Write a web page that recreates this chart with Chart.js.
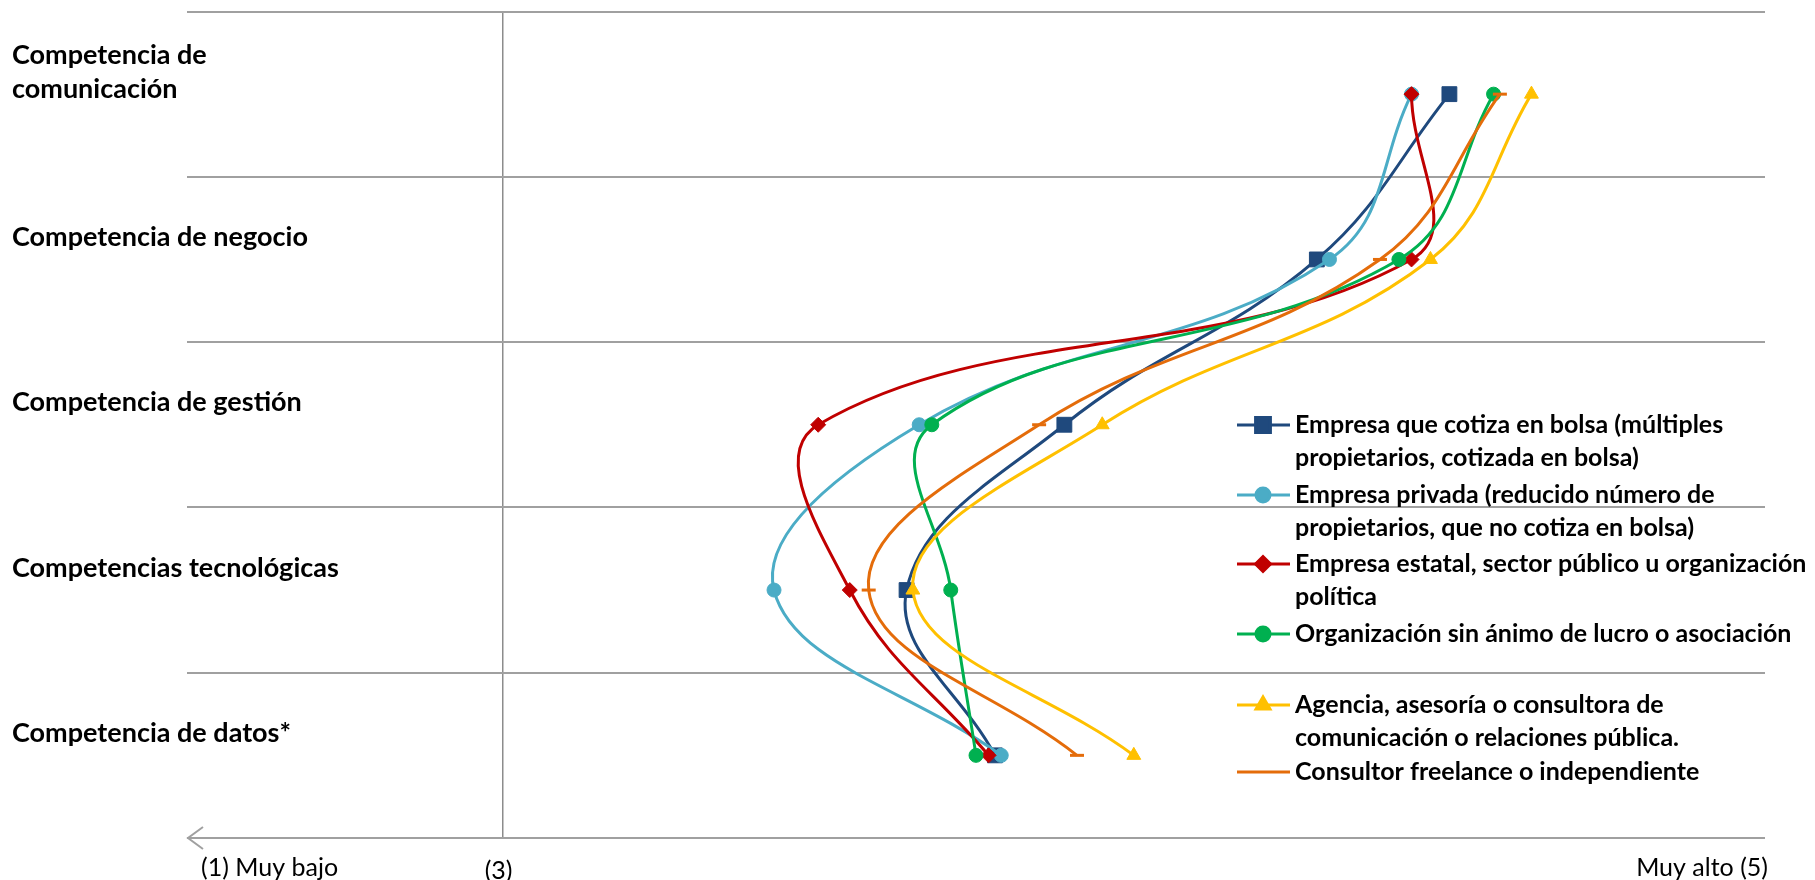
<!DOCTYPE html>
<html>
<head>
<meta charset="utf-8">
<script src="https://cdn.jsdelivr.net/npm/chart.js@4.4.1/dist/chart.umd.min.js"></script>
<style>
    html, body { margin: 0; padding: 0; background: #fff; }
    #wrap { width: 1815px; height: 880px; position: relative; }
</style>
</head>
<body>
<div id="wrap"><canvas id="competencias"></canvas></div>
<script>
// categorías (de arriba a abajo)
const categories = [
    ['Competencia de', 'comunicación'],
    ['Competencia de negocio'],
    ['Competencia de gestión'],
    ['Competencias tecnológicas'],
    ['Competencia de datos*']
];

// valores medios por tipo de organización (escala 1-5)
const cotizaBolsa = [4.50, 4.29, 3.89, 3.64, 3.78];
const empresaPrivada = [4.44, 4.31, 3.66, 3.43, 3.79];
const empresaEstatal = [4.44, 4.44, 3.50, 3.55, 3.77];
const sinAnimoLucro = [4.57, 4.42, 3.68, 3.71, 3.75];
const agencia = [4.63, 4.47, 3.95, 3.65, 4.00];
const freelance = [4.58, 4.39, 3.85, 3.58, 3.91];

const seriesLabels = [
    ['Empresa que cotiza en bolsa (múltiples', 'propietarios, cotizada en bolsa)'],
    ['Empresa privada (reducido número de', 'propietarios, que no cotiza en bolsa)'],
    ['Empresa estatal, sector público u organización', 'política'],
    ['Organización sin ánimo de lucro o asociación'],
    ['Agencia, asesoría o consultora de', 'comunicación o relaciones pública.'],
    ['Consultor freelance o independiente']
];

const axisLabels = ['(1) Muy bajo', '(3)', 'Muy alto (5)'];

const gridColor = '#a0a0a0';
const catY = (i) => categories.length - i - 0.5;

const styles = [
    { color: '#1F497D', point: 'rect', r: 10.5 },
    { color: '#4BACC6', point: 'circle', r: 7 },
    { color: '#C00000', point: 'rectRot', r: 7.5 },
    { color: '#00B050', point: 'circle', r: 7 },
    { color: '#FFC000', point: 'triangle', r: 8 },
    { color: '#E46C0A', point: 'line', r: 7 }
];

const allSeries = [cotizaBolsa, empresaPrivada, empresaEstatal, sinAnimoLucro, agencia, freelance];

const datasets = allSeries.map((values, i) => ({
    label: seriesLabels[i].join(' '),
    data: values.map((v, j) => ({ x: v, y: catY(j) })),
    showLine: true,
    tension: 0.4,
    borderColor: styles[i].color,
    backgroundColor: styles[i].color,
    borderWidth: 3,
    pointStyle: styles[i].point,
    pointRadius: styles[i].r,
    pointHoverRadius: styles[i].r,
    pointBorderWidth: styles[i].point === 'line' ? 3 : 1,
    order: -i,
    clip: false
}));

// textos, flecha y leyenda dibujados encima
const overlay = {
    id: 'overlay',
    afterDraw(chart) {
        const { ctx, chartArea, scales: { x, y } } = chart;
        ctx.save();

        // flecha del eje
        const ay = y.getPixelForValue(0);
        ctx.strokeStyle = gridColor;
        ctx.lineWidth = 2;
        ctx.beginPath();
        ctx.moveTo(chartArea.left + 16, ay - 11);
        ctx.lineTo(chartArea.left + 1, ay);
        ctx.lineTo(chartArea.left + 16, ay + 11);
        ctx.stroke();

        // etiquetas de categorías
        ctx.fillStyle = '#000';
        ctx.textBaseline = 'middle';
        ctx.textAlign = 'left';
        ctx.font = 'bold 27px Lato';
        categories.forEach((lines, i) => {
            const cy = y.getPixelForValue(catY(i)) - 22;
            const top = cy - (lines.length - 1) * 17;
            lines.forEach((t, k) => ctx.fillText(t, 12, top + k * 34));
        });

        // textos del eje horizontal
        ctx.font = '25px Lato';
        ctx.fillText(axisLabels[0], chartArea.left + 14, 868);
        ctx.textAlign = 'center';
        ctx.fillText(axisLabels[1], x.getPixelForValue(3) - 4, 871);
        ctx.textAlign = 'right';
        ctx.fillText(axisLabels[2], chartArea.right + 3, 868);

        // leyenda
        const lx = 1237, tx = 1295;
        const rowStarts = [425, 495, 564, 634, 705, 772];
        ctx.textAlign = 'left';
        ctx.font = 'bold 25px Lato';
        seriesLabels.forEach((lines, i) => {
            const ry = rowStarts[i];
            const st = styles[i];
            ctx.strokeStyle = st.color;
            ctx.fillStyle = st.color;
            ctx.lineWidth = 3;
            ctx.beginPath();
            ctx.moveTo(lx, ry);
            ctx.lineTo(lx + 53, ry);
            ctx.stroke();
            Chart.helpers.drawPoint(ctx, {
                pointStyle: st.point,
                radius: st.point === 'line' ? 0 : st.r,
                borderWidth: 1
            }, lx + 26, ry);
            ctx.fillStyle = '#000';
            lines.forEach((t, k) => ctx.fillText(t, tx, ry + k * 33));
        });

        ctx.restore();
    }
};

new Chart(document.getElementById('competencias'), {
    type: 'scatter',
    data: { datasets },
    options: {
        responsive: true,
        maintainAspectRatio: false,
        animation: false,
        layout: { padding: { left: 187, right: 50, top: 8, bottom: 42 } },
        plugins: {
            legend: { display: false },
            tooltip: { enabled: false }
        },
        scales: {
            x: {
                min: 2.5,
                max: 5,
                ticks: { display: false, stepSize: 0.5 },
                grid: {
                    drawTicks: false,
                    lineWidth: 1.5,
                    color: (c) => (c.tick && c.tick.value === 3 ? '#8c8c8c' : 'rgba(0,0,0,0)')
                },
                border: { display: false }
            },
            y: {
                min: 0,
                max: 5,
                ticks: { display: false, stepSize: 1 },
                grid: { drawTicks: false, lineWidth: 2, color: gridColor },
                border: { display: false }
            }
        }
    },
    plugins: [overlay]
});
</script>
</body>
</html>
